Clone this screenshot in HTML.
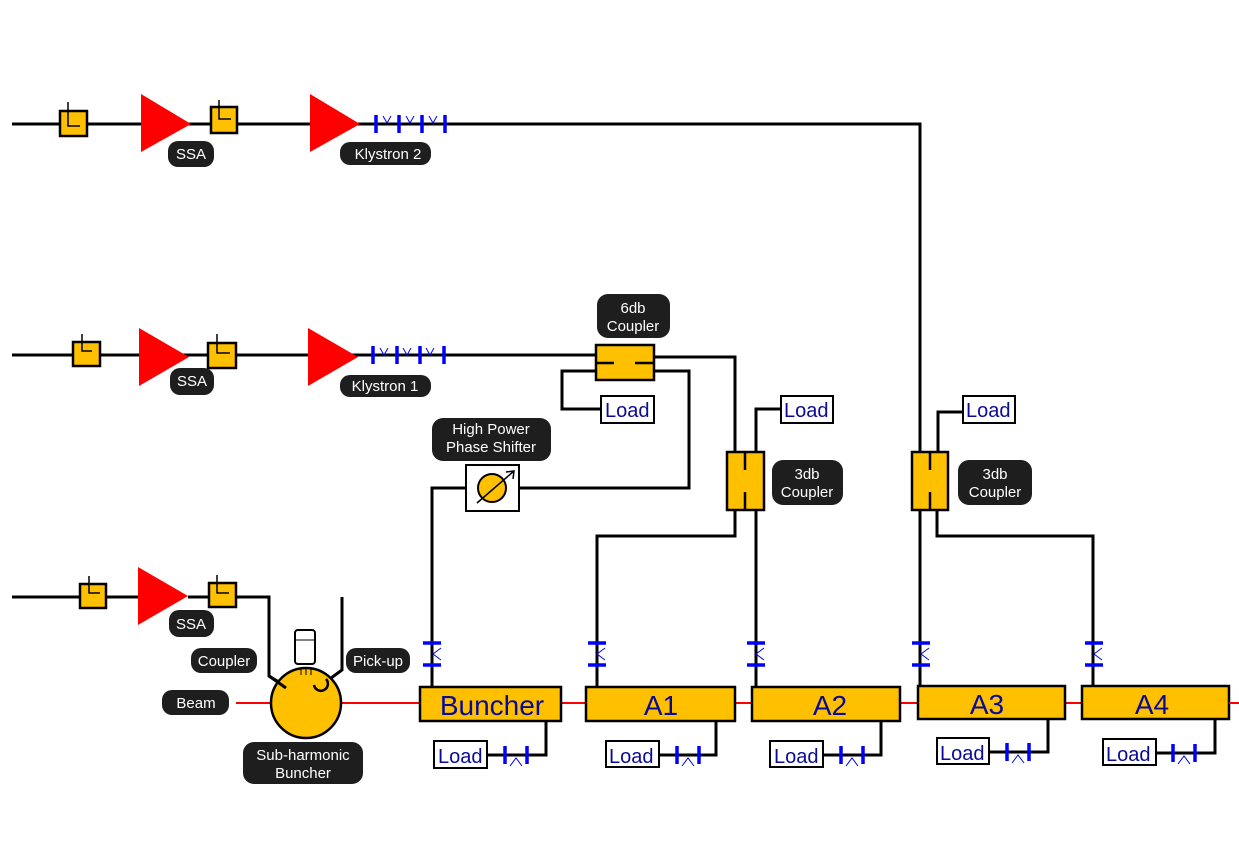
<!DOCTYPE html>
<html><head><meta charset="utf-8"><style>
html,body{margin:0;padding:0;background:#fff;width:1239px;height:850px;overflow:hidden}
svg{display:block}
.p{fill:#1e1e1e}
.pt{fill:#fff;font-family:"Liberation Sans",sans-serif;font-size:15px;text-anchor:middle}
.w{stroke:#000;stroke-width:3;fill:none}
.y{fill:#ffc000;stroke:#000;stroke-width:2.5}
.bl{stroke:#0000ff;stroke-width:3.5}
.bt{stroke:#0000ff;stroke-width:1;fill:none}
.ld{fill:#fff;stroke:#000;stroke-width:2}
.lt{fill:#0a0a96;font-family:"Liberation Sans",sans-serif;font-size:20px}
.at{fill:#0a0a96;font-family:"Liberation Sans",sans-serif;font-size:28px;text-anchor:middle}
</style></head><body>
<svg width="1239" height="850" viewBox="0 0 1239 850">
<!-- beam -->
<line x1="236" y1="703" x2="1239" y2="703" stroke="#ff0000" stroke-width="2"/>

<!-- Row top (Klystron 2) -->
<path class="w" d="M12 124 H920 V686"/>
<rect class="y" x="60" y="111" width="27" height="25"/>
<path d="M68 102 V126 H80" stroke="#000" stroke-width="1.5" fill="none"/>
<polygon points="141,94 141,152 191,124" fill="#ff0000"/>
<rect class="y" x="211" y="107" width="26" height="26"/>
<path d="M219 100 V119 H231" stroke="#000" stroke-width="1.5" fill="none"/>
<polygon points="310,94 310,152 360,124" fill="#ff0000"/>
<g class="bl"><line x1="376" y1="115" x2="376" y2="133"/><line x1="399" y1="115" x2="399" y2="133"/><line x1="422" y1="115" x2="422" y2="133"/><line x1="445" y1="115" x2="445" y2="133"/></g>
<path class="bt" d="M383 116 l4 7 l4 -7 M406 116 l4 7 l4 -7 M429 116 l4 7 l4 -7"/>
<rect class="p" x="168" y="141" width="46" height="26" rx="10"/><text class="pt" x="191" y="159">SSA</text>
<rect class="p" x="340" y="142" width="91" height="23" rx="10"/><text class="pt" x="388" y="159">Klystron 2</text>

<!-- Row middle (Klystron 1) -->
<path class="w" d="M12 355 H596"/>
<rect class="y" x="73" y="342" width="27" height="24"/>
<path d="M82 334 V351 H92" stroke="#000" stroke-width="1.5" fill="none"/>
<polygon points="139,328 139,386 189,357" fill="#ff0000"/>
<rect class="y" x="208" y="343" width="28" height="25"/>
<path d="M217 334 V353 H230" stroke="#000" stroke-width="1.5" fill="none"/>
<polygon points="308,328 308,386 358,357" fill="#ff0000"/>
<g class="bl"><line x1="373" y1="346" x2="373" y2="364"/><line x1="397" y1="346" x2="397" y2="364"/><line x1="420" y1="346" x2="420" y2="364"/><line x1="444" y1="346" x2="444" y2="364"/></g>
<path class="bt" d="M380 348 l4 7 l4 -7 M403 348 l4 7 l4 -7 M426 348 l4 7 l4 -7"/>
<rect class="p" x="170" y="368" width="44" height="27" rx="10"/><text class="pt" x="192" y="386">SSA</text>
<rect class="p" x="340" y="375" width="91" height="22" rx="10"/><text class="pt" x="385" y="391">Klystron 1</text>

<!-- 6db coupler -->
<path class="w" d="M654 357 H735 V452"/>
<path class="w" d="M654 371 H689 V488 H519"/>
<path class="w" d="M596 371 H562 V409 H601"/>
<rect class="y" x="596" y="345" width="58" height="35"/>
<path d="M597 363 H614 M635 363 H653" stroke="#000" stroke-width="2.5"/>
<rect class="ld" x="601" y="396" width="53" height="27"/><text class="lt" x="605" y="417">Load</text>
<rect class="p" x="597" y="294" width="73" height="44" rx="11"/>
<text class="pt" x="633" y="313">6db</text><text class="pt" x="633" y="331">Coupler</text>

<!-- phase shifter -->
<path class="w" d="M466 488 H432 V686"/>
<rect class="ld" x="466" y="465" width="53" height="46"/>
<circle cx="492" cy="488" r="14" fill="#ffc000" stroke="#000" stroke-width="2"/>
<path d="M477 503 L514 471 M506 472 L514 471 L513 479" stroke="#000" stroke-width="1.5" fill="none"/>
<rect class="p" x="432" y="418" width="119" height="43" rx="11"/>
<text class="pt" x="491" y="434">High Power</text><text class="pt" x="491" y="452">Phase Shifter</text>

<!-- 3db coupler 1 -->
<path class="w" d="M756 452 V409 H781"/>
<path class="w" d="M735 510 V536 H597 V686"/>
<path class="w" d="M756 510 V686"/>
<rect class="y" x="727" y="452" width="37" height="58"/>
<path d="M745 453 V470 M745 492 V509" stroke="#000" stroke-width="2.5"/>
<rect class="ld" x="781" y="396" width="52" height="27"/><text class="lt" x="784" y="417">Load</text>
<rect class="p" x="772" y="460" width="71" height="45" rx="11"/>
<text class="pt" x="807" y="479">3db</text><text class="pt" x="807" y="497">Coupler</text>

<!-- 3db coupler 2 -->
<path class="w" d="M938 452 V412 H963"/>
<path class="w" d="M937 510 V536 H1093 V686"/>
<rect class="y" x="912" y="452" width="36" height="58"/>
<path d="M930 453 V470 M930 492 V509" stroke="#000" stroke-width="2.5"/>
<rect class="ld" x="963" y="396" width="52" height="27"/><text class="lt" x="966" y="417">Load</text>
<rect class="p" x="958" y="460" width="74" height="45" rx="11"/>
<text class="pt" x="995" y="479">3db</text><text class="pt" x="995" y="497">Coupler</text>

<!-- vertical flanges -->
<g class="bl">
<line x1="423" y1="643" x2="441" y2="643"/><line x1="423" y1="665" x2="441" y2="665"/>
<line x1="588" y1="643" x2="606" y2="643"/><line x1="588" y1="665" x2="606" y2="665"/>
<line x1="747" y1="643" x2="765" y2="643"/><line x1="747" y1="665" x2="765" y2="665"/>
<line x1="912" y1="643" x2="930" y2="643"/><line x1="912" y1="665" x2="930" y2="665"/>
<line x1="1085" y1="643" x2="1103" y2="643"/><line x1="1085" y1="665" x2="1103" y2="665"/>
</g>
<path class="bt" d="M441 648 l-8 6 l8 6 M605 648 l-8 6 l8 6 M764 648 l-8 6 l8 6 M929 648 l-8 6 l8 6 M1102 648 l-8 6 l8 6"/>

<!-- Row bottom SSA -->
<path class="w" d="M12 597 H80"/>
<path class="w" d="M106 597 H138"/>
<path class="w" d="M236 597 H269 V676 L287 687"/>
<path class="w" d="M342 597 V670 L327 681"/>
<rect class="y" x="80" y="584" width="26" height="24"/>
<path d="M89 576 V593 H100" stroke="#000" stroke-width="1.5" fill="none"/>
<polygon points="138,567 138,625 188,596" fill="#ff0000"/>
<rect class="y" x="209" y="583" width="27" height="24"/>
<path d="M217 575 V593 H229" stroke="#000" stroke-width="1.5" fill="none"/>
<line x1="188" y1="597" x2="209" y2="597" stroke="#000" stroke-width="3"/>
<circle cx="306" cy="703" r="35" fill="#ffc000" stroke="#000" stroke-width="2.5"/>
<path class="w" d="M269 676 L286 688"/>
<path d="M314 685 a7 7 0 1 0 12 -6" stroke="#000" stroke-width="2.5" fill="none"/>
<rect x="295" y="630" width="20" height="34" rx="3" fill="#fff" stroke="#000" stroke-width="2"/>
<line x1="296" y1="640" x2="314" y2="640" stroke="#000" stroke-width="1"/>
<path d="M301 668 H311 M301 668 V675 M306 668 V675 M311 668 V675" stroke="#000" stroke-width="1"/>
<rect class="p" x="169" y="610" width="45" height="27" rx="10"/><text class="pt" x="191" y="629">SSA</text>
<rect class="p" x="191" y="648" width="66" height="25" rx="10"/><text class="pt" x="224" y="666">Coupler</text>
<rect class="p" x="346" y="648" width="64" height="25" rx="10"/><text class="pt" x="378" y="666">Pick-up</text>
<rect class="p" x="162" y="690" width="67" height="25" rx="10"/><text class="pt" x="196" y="708">Beam</text>
<rect class="p" x="243" y="742" width="120" height="42" rx="11"/>
<text class="pt" x="303" y="760">Sub-harmonic</text><text class="pt" x="303" y="778">Buncher</text>

<!-- accelerating structures -->
<rect class="y" x="420" y="687" width="141" height="34"/><text class="at" x="492" y="715">Buncher</text>
<rect class="y" x="586" y="687" width="149" height="34"/><text class="at" x="661" y="715">A1</text>
<rect class="y" x="752" y="687" width="148" height="34"/><text class="at" x="830" y="715">A2</text>
<rect class="y" x="918" y="686" width="147" height="33"/><text class="at" x="987" y="714">A3</text>
<rect class="y" x="1082" y="686" width="147" height="33"/><text class="at" x="1152" y="714">A4</text>
<line x1="1229" y1="703" x2="1239" y2="703" stroke="#ff0000" stroke-width="2"/>

<!-- bottom loads -->
<path class="w" d="M487 755 H546 V721"/>
<path class="w" d="M659 755 H716 V721"/>
<path class="w" d="M823 755 H881 V721"/>
<path class="w" d="M989 752 H1048 V719"/>
<path class="w" d="M1156 753 H1215 V719"/>
<rect class="ld" x="434" y="741" width="53" height="27"/><text class="lt" x="438" y="763">Load</text>
<rect class="ld" x="606" y="741" width="53" height="26"/><text class="lt" x="609" y="763">Load</text>
<rect class="ld" x="770" y="741" width="53" height="26"/><text class="lt" x="774" y="763">Load</text>
<rect class="ld" x="937" y="738" width="52" height="26"/><text class="lt" x="940" y="760">Load</text>
<rect class="ld" x="1103" y="739" width="53" height="26"/><text class="lt" x="1106" y="761">Load</text>
<g class="bl">
<line x1="505" y1="746" x2="505" y2="764"/><line x1="527" y1="746" x2="527" y2="764"/>
<line x1="677" y1="746" x2="677" y2="764"/><line x1="699" y1="746" x2="699" y2="764"/>
<line x1="841" y1="746" x2="841" y2="764"/><line x1="863" y1="746" x2="863" y2="764"/>
<line x1="1007" y1="743" x2="1007" y2="761"/><line x1="1029" y1="743" x2="1029" y2="761"/>
<line x1="1173" y1="744" x2="1173" y2="762"/><line x1="1195" y1="744" x2="1195" y2="762"/>
</g>
<path class="bt" d="M510 766 l6 -8 l6 8 M682 766 l6 -8 l6 8 M846 766 l6 -8 l6 8 M1012 763 l6 -8 l6 8 M1178 764 l6 -8 l6 8"/>
</svg>
</body></html>
